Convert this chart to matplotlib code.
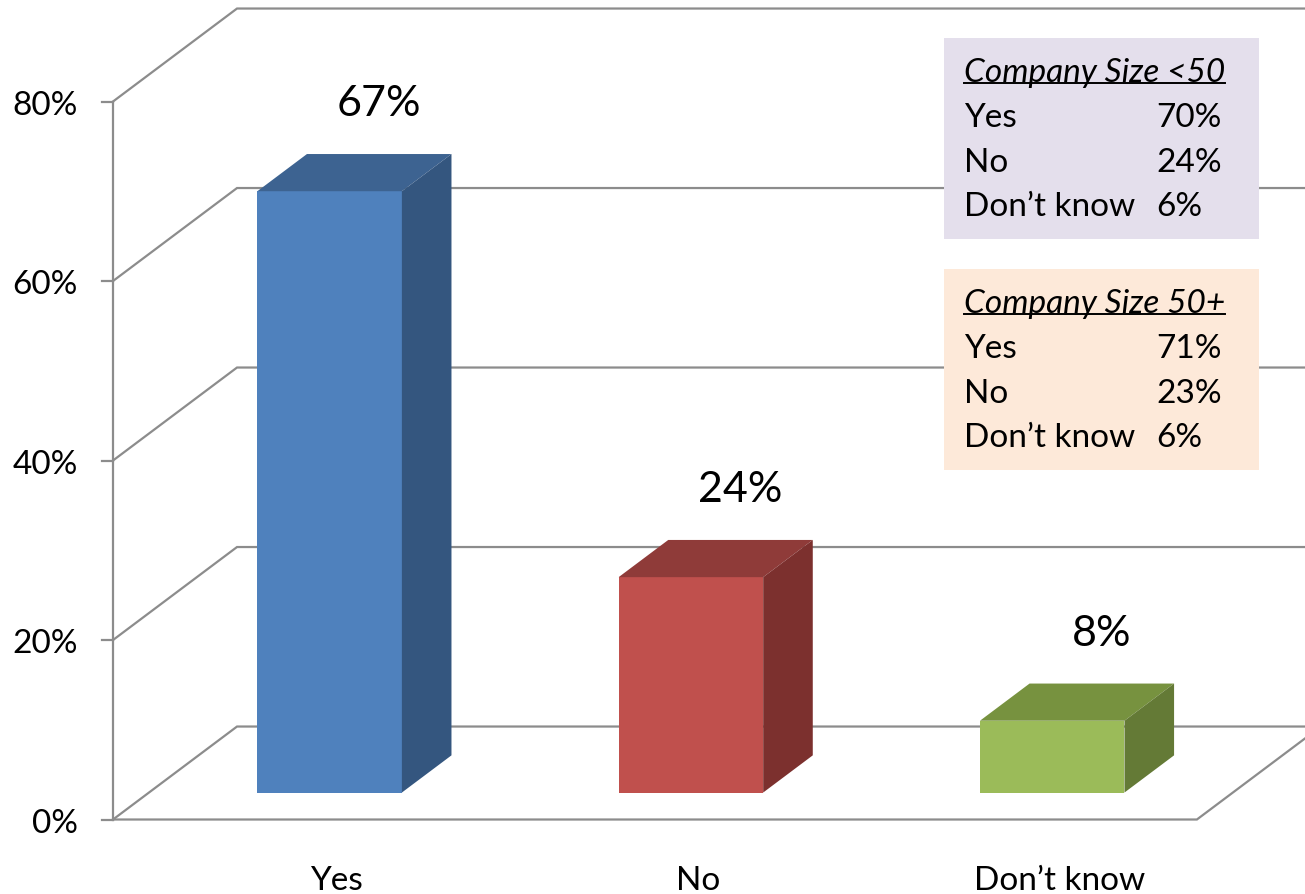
import matplotlib.pyplot as plt
from matplotlib.patches import Polygon, Rectangle

plt.rcParams['font.family'] = ['Lato', 'DejaVu Sans']

# survey answers (overall)
categories = ["Yes", "No", "Don\u2019t know"]
values = [67, 24, 8]
y_ticks = [0, 20, 40, 60, 80]

# breakdown by company size
size_rows = ["Yes", "No", "Don\u2019t know"]
small_title = "Company Size <50"
small_values = [70, 24, 6]
large_title = "Company Size 50+"
large_values = [71, 23, 6]

front_colors = ["#4F81BD", "#C0504D", "#9BBB59"]
top_colors = ["#3D6391", "#8F3B39", "#77923F"]
side_colors = ["#34567F", "#7C302E", "#647A36"]
grid_color = "#8C8C8C"

# oblique projection: depth d in [0, 1] shifts right and up
DX = 0.3432
DY = 10.36
BAR_HALF = 0.2
D_FRONT, D_BACK = 0.29, 0.69

SMALL = 24
BIG = 31


def proj(x, y, d):
    return x + d * DX, y + d * DY


fig = plt.figure(figsize=(13.05, 8.94), dpi=100)
ax = fig.add_axes([0, 0, 1, 1])
ax.set_xlim(-0.8128, 2.7992)
ax.set_ylim(-8.30, 91.31)
ax.axis('off')

n = len(categories)
left, right = -0.5, n - 0.5
lw = 1.6

# left wall and back wall gridlines
for t in y_ticks:
    pts = [proj(left, t, 0), proj(left, t, 1), proj(right, t, 1)]
    ax.plot([p[0] for p in pts], [p[1] for p in pts], color=grid_color, lw=lw,
            solid_joinstyle='miter', zorder=1)
    ax.plot([left - 0.0304, left], [t, t], color=grid_color, lw=lw, zorder=1)
    ax.annotate(f"{t}%", xy=(left, t), xytext=(-35, -13), textcoords='offset pixels',
                ha='right', va='baseline', fontsize=SMALL)

# front axis and floor outline
ax.plot([left, left], [0, y_ticks[-1]], color=grid_color, lw=lw, zorder=1)
floor = [proj(left, 0, 0), proj(right, 0, 0), proj(right, 0, 1)]
ax.plot([p[0] for p in floor], [p[1] for p in floor], color=grid_color, lw=lw,
        solid_joinstyle='miter', zorder=1)

# 3d bars
for i, v in enumerate(values):
    x0, x1 = i - BAR_HALF, i + BAR_HALF
    front = [proj(x0, 0, D_FRONT), proj(x1, 0, D_FRONT), proj(x1, v, D_FRONT), proj(x0, v, D_FRONT)]
    top = [proj(x0, v, D_FRONT), proj(x1, v, D_FRONT), proj(x1, v, D_BACK), proj(x0, v, D_BACK)]
    side = [proj(x1, 0, D_FRONT), proj(x1, 0, D_BACK), proj(x1, v, D_BACK), proj(x1, v, D_FRONT)]
    ax.add_patch(Polygon(front, closed=True, facecolor=front_colors[i], edgecolor='none', zorder=3))
    ax.add_patch(Polygon(top, closed=True, facecolor=top_colors[i], edgecolor='none', zorder=3))
    ax.add_patch(Polygon(side, closed=True, facecolor=side_colors[i], edgecolor='none', zorder=3))
    ax.annotate(f"{v}%", xy=proj(i, v, D_BACK), xytext=(0, 38), textcoords='offset pixels',
                ha='center', va='baseline', fontsize=BIG)
    ax.annotate(categories[i], xy=proj(i, 0, 0), xytext=(43, -70), textcoords='offset pixels',
                ha='center', va='baseline', fontsize=SMALL)


# inset boxes with the company size breakdown
def size_box(top_px, color, title, vals):
    W, H = 1305.0, 894.0
    ax.add_patch(Rectangle((944 / W, 1 - (top_px + 201) / H), 315 / W, 201 / H,
                           transform=ax.transAxes, facecolor=color, edgecolor='none', zorder=4))
    tx = 964 / W
    title_txt = ax.text(tx, 1 - (top_px + 44) / H, title, transform=ax.transAxes,
                        fontsize=SMALL, style='italic', va='baseline', ha='left', zorder=5)
    for k, (name, val) in enumerate(zip(size_rows, vals)):
        yb = 1 - (top_px + 89 + 44.7 * k) / H
        ax.text(tx, yb, name, transform=ax.transAxes, fontsize=SMALL,
                va='baseline', ha='left', zorder=5)
        ax.text(1156 / W, yb, f"{val}%", transform=ax.transAxes, fontsize=SMALL,
                va='baseline', ha='left', zorder=5)
    return title_txt


titles = [size_box(38, "#E4DFEC", small_title, small_values),
          size_box(269, "#FDE9D9", large_title, large_values)]

# underline the box titles
fig.canvas.draw()
renderer = fig.canvas.get_renderer()
inv = ax.transAxes.inverted()
for t in titles:
    bb = t.get_window_extent(renderer)
    x_a, y_a = inv.transform((bb.x0, bb.y0 + 5))
    x_b, _ = inv.transform((bb.x1, bb.y0 + 5))
    ax.plot([x_a, x_b], [y_a, y_a], transform=ax.transAxes, color='black', lw=1.4, zorder=5)

fig.savefig("out.png", dpi=100)
